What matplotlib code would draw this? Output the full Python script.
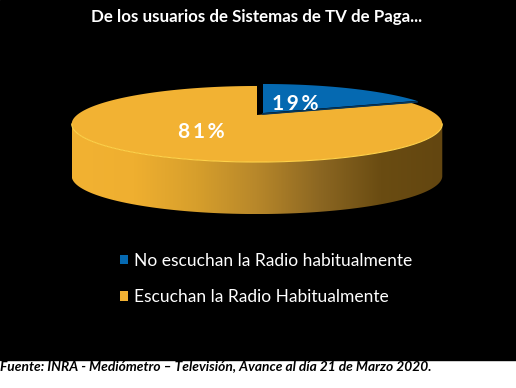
import numpy as np
import matplotlib
matplotlib.use("Agg")
import matplotlib.pyplot as plt
from matplotlib.patches import Polygon, Rectangle, Patch
from matplotlib.colors import LinearSegmentedColormap

# data
labels = ["No escuchan la Radio habitualmente", "Escuchan la Radio Habitualmente"]
shares = [19, 81]
colors = ["#0569B1", "#F2B233"]
title = "De los usuarios de Sistemas de TV de Paga..."
source = "Fuente: INRA - Mediómetro \u2013 Televisión, Avance al día 21 de Marzo 2020."

plt.rcParams["font.family"] = ["Lato", "DejaVu Sans"]

W, H = 516, 388
fig = plt.figure(figsize=(W / 100, H / 100), dpi=100, facecolor="white")
ax = fig.add_axes([0, 0, 1, 1])
ax.set_xlim(0, W)
ax.set_ylim(H, 0)
ax.axis("off")
ax.add_patch(Rectangle((0, 0), W, 360, color="black", zorder=0))

# perspective pie geometry (pixels)
cx, cy = 257, 115
sx, ty, k = 180, 35.9, 0.237
depth = 52


def proj(theta, r=1.0, dx=0.0, dy=0.0):
    X = r * np.cos(theta)
    Y = r * np.sin(theta)
    d = 1 + k * Y
    return cx + sx * X / d + dx, cy - ty * Y / d + dy


# side wall (front half, between silhouette points)
t0 = np.pi + np.arcsin(k)
t1 = 2 * np.pi - np.arcsin(k)
tt = np.linspace(t0, t1, 200)
xt, yt = proj(tt)
side = np.column_stack([np.concatenate([xt, xt[::-1]]),
                        np.concatenate([yt, yt[::-1] + depth])])
side_poly = Polygon(side, closed=True, facecolor="none", edgecolor="none", zorder=1)
ax.add_patch(side_poly)
cmap = LinearSegmentedColormap.from_list(
    "side", ["#F2B232", "#EFAF30", "#D79F2C", "#B7872A", "#8C6722", "#6A4C12", "#634610"])
grad = np.linspace(0, 1, 256).reshape(1, -1)
im = ax.imshow(grad, cmap=cmap, extent=(xt.min(), xt.max(), yt.max() + depth, yt.min()),
               aspect="auto", zorder=1)
im.set_clip_path(side_poly)

# top faces, starting at 12 o'clock, blue clockwise
fracs = np.array(shares) / sum(shares)
start = np.pi / 2
offsets = [(6, -2), (0, 0)]
label_r = [0.34, 0.5]
for i, f in enumerate(fracs):
    if i == 0:
        th = np.linspace(start, start - 2 * np.pi * f, 200)
    else:
        th = np.linspace(start, start + 2 * np.pi * f, 600)
    dx, dy = offsets[i]
    px, py = proj(th, dx=dx, dy=dy)
    pts = np.column_stack([np.concatenate([[cx + dx], px]),
                           np.concatenate([[cy + dy], py])])
    ax.add_patch(Polygon(pts, closed=True, facecolor=colors[i], edgecolor="none", zorder=2))
    mid = th[len(th) // 2]
    lx, ly = proj(mid, r=label_r[i], dx=dx, dy=dy)
    ax.text(lx, ly, "\u2009".join(f"{shares[i]}%"), color="white", fontsize=15,
            fontweight="bold", ha="center", va="center", zorder=4)

# blue slice cut edge shadow
th_end = start - 2 * np.pi * fracs[0]
ex, ey = proj(th_end, dx=6, dy=-2)
ax.plot([cx + 6, ex], [cy - 1, ey + 1], color="#06375C", lw=1.2, zorder=3)

# light rim along front edge
ax.plot(xt, yt, color="#FFD24A", lw=0.8, zorder=3)

ax.text(W / 2 - 1, 17, title, color="white", fontsize=12.2, fontweight="bold",
        ha="center", va="center")

handles = [Patch(facecolor=c, edgecolor="none") for c in colors]
leg = ax.legend(handles, labels, loc="upper left", bbox_to_anchor=(104 / W, 1 - 237 / H),
                frameon=False, fontsize=12.5, labelcolor="white",
                handlelength=0.5, handleheight=0.5, handletextpad=0.3,
                labelspacing=1.2)

ax.text(0, 366, source, color="black", fontsize=9.9, fontweight="bold",
        fontstyle="italic", ha="left", va="center")

fig.savefig("out.png", dpi=100, facecolor=fig.get_facecolor())
